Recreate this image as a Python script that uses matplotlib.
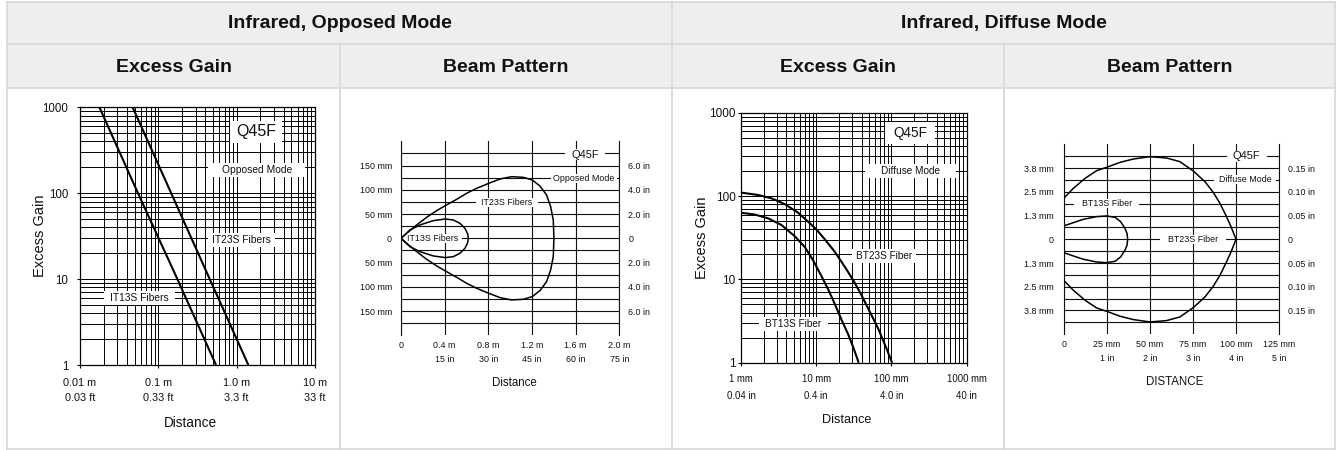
import matplotlib
matplotlib.use('Agg')
import matplotlib.pyplot as plt
from matplotlib.patches import Rectangle
from matplotlib.ticker import NullFormatter
from matplotlib import font_manager as fm
import numpy as np

plt.rcParams['font.family'] = ['Liberation Sans', 'DejaVu Sans']

try:
    fm.findfont(fm.FontProperties(family='Liberation Sans Narrow'), fallback_to_default=False)
    NARROW = True
except Exception:
    NARROW = False
NF = ['Liberation Sans Narrow', 'Liberation Sans', 'DejaVu Sans'] if NARROW else ['Liberation Sans', 'DejaVu Sans']
NK = 1.2 if NARROW else 1.0

# ---------------- data ----------------
header_modes = ['Infrared, Opposed Mode', 'Infrared, Diffuse Mode']
header_cols = ['Excess Gain', 'Beam Pattern', 'Excess Gain', 'Beam Pattern']

gain_ticks = [1, 10, 100, 1000]
gain_labels = ['1', '10', '100', '1000']

# Panel 1: opposed mode excess gain (distance in m)
opp_gain_x_ticks = [0.01, 0.1, 1.0, 10]
opp_gain_x_labels = ['0.01 m\n0.03 ft', '0.1 m\n0.33 ft', '1.0 m\n3.3 ft', '10 m\n33 ft']
it13s_distance = [0.0177, 0.055, 0.175, 0.545]
it13s_gain = [1000, 100, 10, 1]
it23s_distance = [0.047, 0.146, 0.453, 1.41]
it23s_gain = [1000, 100, 10, 1]

# Panel 2: opposed mode beam pattern (x in m, y in mm, upper half)
opp_bp_x_ticks = [0, 0.4, 0.8, 1.2, 1.6, 2.0]
opp_bp_x_labels = ['0', '0.4 m\n15 in', '0.8 m\n30 in', '1.2 m\n45 in', '1.6 m\n60 in', '2.0 m\n75 in']
opp_bp_y_ticks = [150, 100, 50, 0, -50, -100, -150]
opp_bp_y_left = ['150 mm', '100 mm', '50 mm', '0', '50 mm', '100 mm', '150 mm']
opp_bp_y_right = ['6.0 in', '4.0 in', '2.0 in', '0', '2.0 in', '4.0 in', '6.0 in']
it23s_bp_x = [0, 0.052, 0.1435, 0.235, 0.327, 0.406, 0.51, 0.601, 0.693, 0.803,
              0.907, 1.014, 1.121, 1.203, 1.273, 1.334, 1.371, 1.395, 1.401]
it23s_bp_y = [0, 10.3, 27.5, 43.3, 57.0, 67.3, 80.4, 92.7, 103.0, 113.3,
              122.3, 127.1, 125.7, 120.2, 107.8, 89.3, 65.2, 37.8, 0]
it13s_bp_x = [0, 0.082, 0.174, 0.296, 0.406, 0.479, 0.540, 0.586, 0.611, 0.617]
it13s_bp_y = [0, 17.2, 27.5, 36.4, 39.8, 37.8, 30.9, 20.6, 8.9, 0]

# Panel 3: diffuse mode excess gain (distance in mm)
dif_gain_x_ticks = [1, 10, 100, 1000]
dif_gain_x_labels = ['1 mm\n0.04 in', '10 mm\n0.4 in', '100 mm\n4.0 in', '1000 mm\n40 in']
bt23s_distance = [1.0, 1.68, 2.53, 3.81, 5.73, 7.78, 10.0, 12.97, 17.6, 23.9,
                  30.9, 39.8, 51.4, 66.3, 85.7, 101.9]
bt23s_gain = [110, 103, 94, 80, 63.2, 49.3, 39.9, 30.3, 21.5, 14.2,
              9.84, 6.5, 4.1, 2.59, 1.49, 1.0]
bt13s_distance = [1.0, 1.52, 2.29, 3.44, 5.17, 7.03, 9.06, 11.7, 14.4, 17.6,
                  21.6, 26.5, 30.9, 36.7]
bt13s_gain = [63, 60, 54, 45, 33, 24.5, 17, 11, 7.6, 5.1, 3.3, 2.2, 1.55, 1.0]

# Panel 4: diffuse mode beam pattern (x in mm, y in inches, upper half)
dif_bp_x_ticks = [0, 25, 50, 75, 100, 125]
dif_bp_x_labels = ['0', '25 mm\n1 in', '50 mm\n2 in', '75 mm\n3 in', '100 mm\n4 in', '125 mm\n5 in']
dif_bp_y_ticks = [0.15, 0.10, 0.05, 0, -0.05, -0.10, -0.15]
dif_bp_y_left = ['3.8 mm', '2.5 mm', '1.3 mm', '0', '1.3 mm', '2.5 mm', '3.8 mm']
dif_bp_y_right = ['0.15 in', '0.10 in', '0.05 in', '0', '0.05 in', '0.10 in', '0.15 in']
bt23s_bp_x = [0, 5.6, 12.4, 19.1, 24.9, 32.7, 40.4, 50.0, 59.7, 67.4, 75.1,
              81.9, 86.7, 90.6, 94.1, 97.0, 99.9]
bt23s_bp_y = [0.0864, 0.1074, 0.1285, 0.1447, 0.1517, 0.1622, 0.1692, 0.1742,
              0.1713, 0.1636, 0.144, 0.1215, 0.099, 0.0758, 0.0499, 0.0267, 0]
bt13s_bp_x = [0, 5.6, 11.4, 19.1, 24.9, 29.8, 33.0, 35.5, 36.7, 37.1]
bt13s_bp_y = [0.0281, 0.0351, 0.0421, 0.0478, 0.0492, 0.0463, 0.0372, 0.0232, 0.0126, 0]

# ---------------- figure / table ----------------
W, H = 1336, 450
fig = plt.figure(figsize=(W / 100, H / 100), dpi=100)
fig.patch.set_facecolor('white')

bg = fig.add_axes([0, 0, 1, 1], zorder=-10)
bg.set_xlim(0, W)
bg.set_ylim(H, 0)
bg.axis('off')

L, R, T, B = 7, 1335, 1.5, 449
row1, row2 = 44, 88
mid, c1, c3 = 672, 340, 1004
HDR, BRD = '#eeeeee', '#dadada'
blw = 1.3
TXT = '#111111'
bg.add_patch(Rectangle((L, T), R - L, row2 - T, facecolor=HDR, edgecolor='none'))
for y in (T, row1, row2, B):
    bg.plot([L, R], [y, y], color=BRD, lw=blw, solid_capstyle='projecting')
for x in (L, mid, R):
    bg.plot([x, x], [T, B], color=BRD, lw=blw, solid_capstyle='projecting')
for x in (c1, c3):
    bg.plot([x, x], [row1, B], color=BRD, lw=blw, solid_capstyle='projecting')

hfs = 14
bg.text((L + mid) / 2, (T + row1) / 2 + 1, header_modes[0], ha='center', va='center',
        fontsize=hfs, fontweight='bold', color=TXT)
bg.text((mid + R) / 2, (T + row1) / 2 + 1, header_modes[1], ha='center', va='center',
        fontsize=hfs, fontweight='bold', color=TXT)
col_edges = [L, c1, mid, c3, R]
for i, name in enumerate(header_cols):
    bg.text((col_edges[i] + col_edges[i + 1]) / 2, (row1 + row2) / 2 + 1, name,
            ha='center', va='center', fontsize=hfs, fontweight='bold', color=TXT)


def px_axes(x0, y0, x1, y1):
    return fig.add_axes([x0 / W, 1 - y1 / H, (x1 - x0) / W, (y1 - y0) / H])


boxes = []


def label(ax, x, y, s, fs, padx, pady, family=None):
    kw = {'family': family} if family else {}
    t = ax.text(x, y, s, ha='center', va='center', fontsize=fs, zorder=5, color=TXT, **kw)
    boxes.append((ax, t, padx, pady))


def gain_panel(ax, xlim, xticks, xlabels, curves, xfs, yfs, xpad, ypad, ticklen, ls, clw):
    ax.set_xscale('log')
    ax.set_yscale('log')
    ax.set_xlim(xlim)
    ax.set_ylim(1, 1000)
    ax.set_xticks(xticks, xlabels)
    ax.set_yticks(gain_ticks, gain_labels)
    ax.xaxis.set_minor_formatter(NullFormatter())
    ax.yaxis.set_minor_formatter(NullFormatter())
    ax.grid(True, which='both', color='black', lw=0.7)
    ax.tick_params(which='minor', length=0)
    ax.tick_params(which='major', length=ticklen, width=0.8, color='black')
    ax.tick_params(axis='x', labelsize=xfs, pad=xpad, labelcolor=TXT)
    ax.tick_params(axis='y', labelsize=yfs, pad=ypad, labelcolor=TXT)
    for lbl in ax.get_xticklabels():
        lbl.set_linespacing(ls)
    for sp in ax.spines.values():
        sp.set_color('black')
        sp.set_linewidth(0.9)
    for x, y in curves:
        ax.plot(x, y, color='black', lw=clw, zorder=3, solid_capstyle='butt')


def beam_panel(ax, xlim, ylim, xticks, xlabels, yticks, yl, yr, ygrid, curves,
               fs, xpad, ypadl, ypadr, ls, clw):
    ax.set_xlim(xlim)
    ax.set_ylim(ylim)
    ax.set_xticks(xticks, xlabels)
    ax.set_yticks(yticks, yl)
    ax.set_yticks(ygrid, minor=True)
    ax.grid(True, axis='x', which='major', color='#111111', lw=0.8)
    ax.grid(True, axis='y', which='both', color='#111111', lw=0.8)
    ax.tick_params(which='both', length=0)
    ax.tick_params(axis='x', labelsize=fs, pad=xpad, labelcolor=TXT)
    ax.tick_params(axis='y', labelsize=fs, pad=ypadl, labelcolor=TXT)
    for lbl in ax.get_xticklabels() + ax.get_yticklabels():
        lbl.set_family(NF)
    for lbl in ax.get_xticklabels():
        lbl.set_linespacing(ls)
    ax.spines['top'].set_visible(False)
    ax.spines['bottom'].set_visible(False)
    for s in ('left', 'right'):
        ax.spines[s].set_color('#111111')
        ax.spines[s].set_linewidth(0.8)
    sec = ax.secondary_yaxis('right')
    sec.set_yticks(yticks, yr)
    sec.tick_params(length=0, pad=ypadr, labelsize=fs, labelcolor=TXT)
    for lbl in sec.get_yticklabels():
        lbl.set_family(NF)
    sec.spines['right'].set_visible(False)
    for x, y in curves:
        xs = list(x) + list(x)[::-1]
        ys = list(y) + [-v for v in list(y)[::-1]]
        ax.plot(xs, ys, color='black', lw=clw, zorder=3)


# ---------- Panel 1 ----------
ax1 = px_axes(80, 107.3, 315, 365)
gain_panel(ax1, (0.01, 10), opp_gain_x_ticks, opp_gain_x_labels,
           [(it13s_distance, it13s_gain), (it23s_distance, it23s_gain)],
           xfs=7.8, yfs=8.3, xpad=7.5, ypad=6.3, ticklen=3 * 0.72, ls=1.55, clw=1.5)
label(ax1, 1.77, 516, 'Q45F', 11.5, 6, 3.5)
label(ax1, 1.80, 185, 'Opposed Mode', 7.4, 13.5, 2)
label(ax1, 1.16, 28.4, 'IT23S Fibers', 7.4, 4, 2)
label(ax1, 0.0572, 6.1, 'IT13S Fibers', 7.4, 6, 2)
bg.text(40, 236, 'Excess Gain', rotation=90, ha='center', va='center', fontsize=10.5, color=TXT)
bg.text(190, 423, 'Distance', ha='center', va='center', fontsize=9.8, color=TXT)

# ---------- Panel 2 ----------
ax2 = px_axes(401, 141.3, 619.3, 335.3)
beam_panel(ax2, (0, 2.0), (-200, 200), opp_bp_x_ticks, opp_bp_x_labels,
           opp_bp_y_ticks, opp_bp_y_left, opp_bp_y_right, np.arange(-175, 176, 25),
           [(it23s_bp_x, it23s_bp_y), (it13s_bp_x, it13s_bp_y)],
           fs=6.4 * NK, xpad=4.0, ypadl=6.5, ypadr=6.5, ls=1.75 / NK, clw=1.1)
label(ax2, 1.686, 172, 'Q45F', 8, 6, 0.5)
label(ax2, 1.677, 124, 'Opposed Mode', 6.4 * NK, 2.5, 0, NF)
label(ax2, 0.968, 74, 'IT23S Fibers', 6.4 * NK, 5.5, 0, NF)
label(ax2, 0.287, 0, 'IT13S Fibers', 6.4 * NK, 4.5, 0, NF)
bg.text(514, 383.3, 'Distance', ha='center', va='center', fontsize=8.3 * NK, color=TXT, family=NF)

# ---------- Panel 3 ----------
ax3 = px_axes(741, 112.7, 966.7, 362.7)
gain_panel(ax3, (1, 1000), dif_gain_x_ticks, dif_gain_x_labels,
           [(bt23s_distance, bt23s_gain), (bt13s_distance, bt13s_gain)],
           xfs=6.9, yfs=8.5, xpad=6.5, ypad=1.9, ticklen=2.7 * 0.72, ls=1.8, clw=1.5)
label(ax3, 176, 566, 'Q45F', 9.8, 8, 4)
label(ax3, 180, 201, 'Diffuse Mode', 7.2, 16, 2)
label(ax3, 79.6, 19.2, 'BT23S Fiber', 7.2, 3.5, 2)
label(ax3, 4.96, 2.89, 'BT13S Fiber', 7.2, 6.5, 2)
bg.text(701.7, 238, 'Excess Gain', rotation=90, ha='center', va='center', fontsize=10.5, color=TXT)
bg.text(846.7, 420, 'Distance', ha='center', va='center', fontsize=9.1, color=TXT)

# ---------- Panel 4 ----------
ax4 = px_axes(1063.7, 144.4, 1279.3, 334.2)
beam_panel(ax4, (0, 125), (-0.2, 0.2), dif_bp_x_ticks, dif_bp_x_labels,
           dif_bp_y_ticks, dif_bp_y_left, dif_bp_y_right, np.arange(-7, 8) * 0.025,
           [(bt23s_bp_x, bt23s_bp_y), (bt13s_bp_x, bt13s_bp_y)],
           fs=6.4 * NK, xpad=4.0, ypadl=7, ypadr=6, ls=1.8 / NK, clw=1.1)
label(ax4, 106.1, 0.175, 'Q45F', 8, 6, 0.5)
label(ax4, 105.1, 0.125, 'Diffuse Mode', 6.4 * NK, 5, 0, NF)
label(ax4, 24.9, 0.075, 'BT13S Fiber', 6.4 * NK, 7.5, 0, NF)
label(ax4, 75.1, 0.0, 'BT23S Fiber', 6.4 * NK, 8, 0, NF)
bg.text(1175, 381.7, 'DISTANCE', ha='center', va='center', fontsize=8.3 * NK, color=TXT, family=NF)

# ---------- white boxes behind in-chart labels ----------
fig.canvas.draw()
renderer = fig.canvas.get_renderer()
for ax, t, padx, pady in boxes:
    bb = t.get_window_extent(renderer)
    rect = Rectangle(((bb.x0 - padx) / W, (bb.y0 - pady) / H),
                     (bb.width + 2 * padx) / W, (bb.height + 2 * pady) / H,
                     transform=fig.transFigure, facecolor='white', edgecolor='none',
                     zorder=2.6)
    ax.add_artist(rect)

fig.savefig('out.png', dpi=100)
